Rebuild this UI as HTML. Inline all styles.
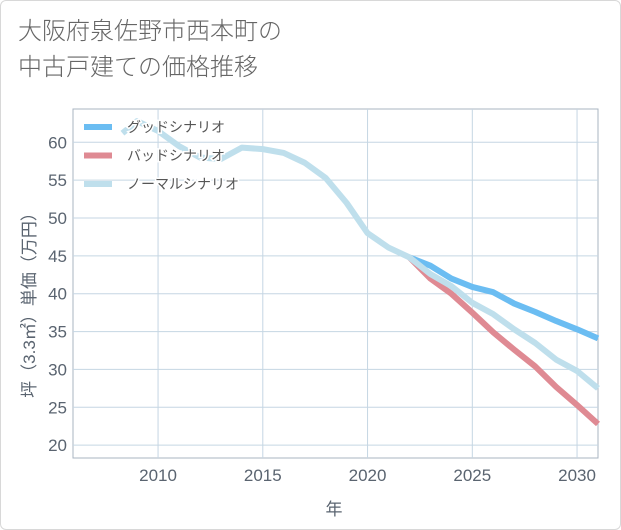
<!DOCTYPE html>
<html><head><meta charset="utf-8">
<style>
html,body{margin:0;padding:0;background:#fff;}
#wrap{position:relative;width:619px;height:528px;border:1px solid #d8d8d8;border-radius:6px;overflow:hidden;font-family:"Liberation Sans","Noto Sans CJK JP",sans-serif;}
#title{position:absolute;left:17px;top:13px;font-size:24px;line-height:36px;color:#666;font-weight:300;}
svg{position:absolute;left:0;top:0;}
</style></head>
<body>
<div id="wrap">
<div id="title">大阪府泉佐野市西本町の<br>中古戸建ての価格推移</div>
<svg id="chart" width="621" height="530"></svg>
</div>
<script>
const xTicks=[2010,2015,2020,2025,2030];
const yTicks=[20,25,30,35,40,45,50,55,60];
const normalYears=[2008.3,2009,2010,2011,2012,2013,2014,2015,2016,2017,2018,2019,2020,2021,2022,2023,2024,2025,2026,2027,2028,2029,2030,2031];
const normalVals=[61.2,62.8,61.5,59.5,58,57.8,59.3,59.1,58.6,57.3,55.3,52,48,46.1,44.8,42.6,41,38.8,37.3,35.3,33.5,31.3,29.8,27.5];
const goodYears=[2022,2023,2024,2025,2026,2027,2028,2029,2030,2031];
const goodVals=[44.8,43.7,42,40.9,40.2,38.7,37.6,36.4,35.3,34.1];
const badYears=[2022,2023,2024,2025,2026,2027,2028,2029,2030,2031];
const badVals=[44.8,42,40,37.5,34.9,32.6,30.4,27.7,25.3,22.8];
const seriesNames=["グッドシナリオ","バッドシナリオ","ノーマルシナリオ"];

const L=72,R=597,T=108,B=457,x0=2005.94,x1=2031,y0=18.3,y1=64.4;
const X=v=>L+(v-x0)/(x1-x0)*(R-L);
const Y=v=>B-(v-y0)/(y1-y0)*(B-T);
const svg=document.getElementById('chart');
const NS='http://www.w3.org/2000/svg';
function mk(t,a){const e=document.createElementNS(NS,t);for(const k in a)e.setAttribute(k,a[k]);svg.appendChild(e);return e;}

const bg=mk('rect',{x:L,y:T,width:R-L,height:B-T,fill:'#fff',stroke:'#a9b4c2','stroke-width':1});


yTicks.forEach(v=>{
  const g=mk('line',{x1:L,x2:R,y1:Y(v),y2:Y(v),stroke:'#c5d6e3','stroke-width':1});
  
  
  const t=mk('text',{x:L-6,y:Y(v)+6,'text-anchor':'end','font-size':17,fill:'#5a6470'});
  t.textContent=v;
  
  
});
xTicks.forEach(v=>{
  const g=mk('line',{x1:X(v),x2:X(v),y1:T,y2:B,stroke:'#c5d6e3','stroke-width':1});
  
  
  const t=mk('text',{x:X(v),y:B+23,'text-anchor':'middle','font-size':17,fill:'#5a6470'});
  t.textContent=v;
  
  
});
function line(xs,vs,color,name){
  const p=mk('polyline',{points:xs.map((x,i)=>X(x)+','+Y(vs[i])).join(' '),fill:'none',stroke:color,'stroke-width':6,'stroke-linejoin':'round'});
  
  
}
line(goodYears,goodVals,'#6bbdf2','good-scenario-line');
line(badYears,badVals,'#df8a93','bad-scenario-line');
line(normalYears,normalVals,'#bfdfec','normal-scenario-line');
const colors=['#6bbdf2','#df8a93','#bfdfec'];
seriesNames.forEach((n,i)=>{
  const y=126+i*28.5;
  const s=mk('line',{x1:83,x2:111,y1:y,y2:y,stroke:colors[i],'stroke-width':6});
  
  
  const t=mk('text',{x:126,y:y+5,'font-size':14,fill:'#555',stroke:'#fff','stroke-width':3,'paint-order':'stroke'});
  t.textContent=n;
  
  
});
const xt=mk('text',{x:333,y:514,'text-anchor':'middle','font-size':17,fill:'#5a6470'});
xt.textContent='年';


const yt=mk('text',{x:0,y:0,'text-anchor':'middle','font-size':17,fill:'#5a6470',transform:'translate(34,300) rotate(-90)'});
yt.textContent='坪（3.3㎡）単価（万円）';


</script>
</body></html>
